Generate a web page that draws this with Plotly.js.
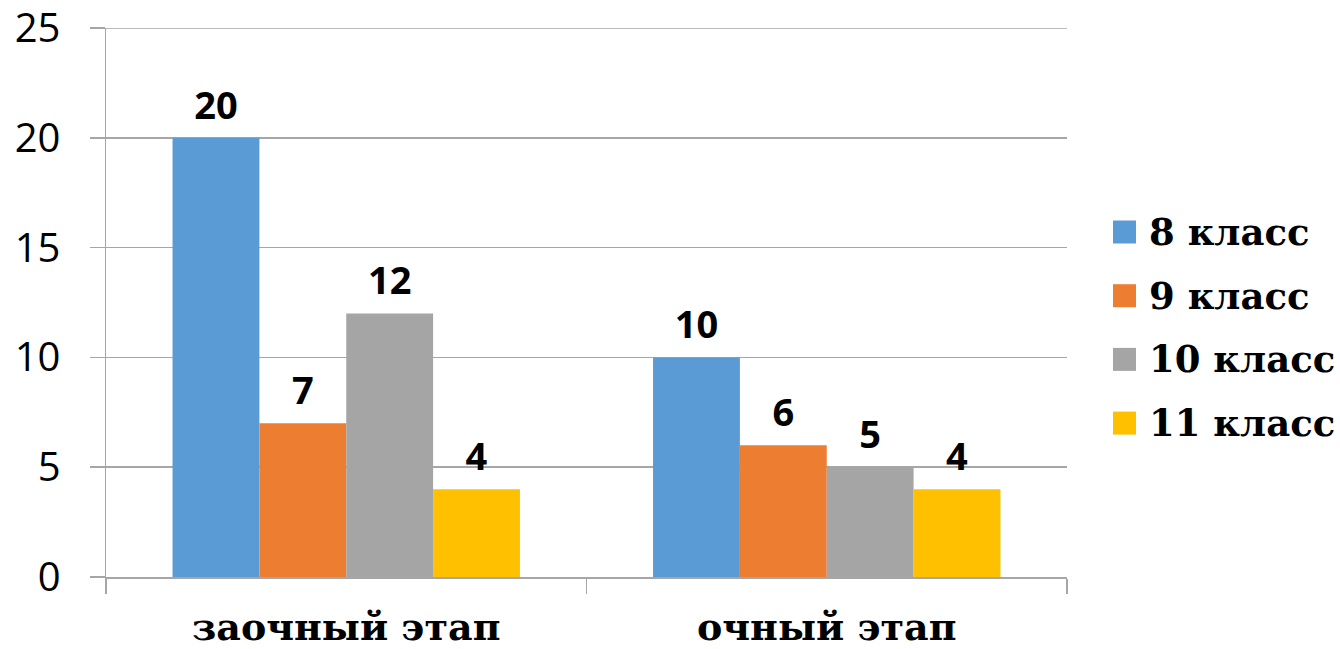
<!DOCTYPE html>
<html>
<head>
<meta charset="utf-8">
<script src="https://cdn.plot.ly/plotly-3.0.1.min.js"></script>
<style>html,body{margin:0;padding:0;background:#fff;}#chart{width:1340px;height:649px;}</style>
</head>
<body>
<div id="chart"></div>
<script>
const categories = ['заочный этап', 'очный этап'];
const seriesNames = ['8 класс', '9 класс', '10 класс', '11 класс'];
const class8 = [20, 10];
const class9 = [7, 6];
const class10 = [12, 5];
const class11 = [4, 4];
const seriesValues = [class8, class9, class10, class11];
const colors = ['#5B9BD5', '#ED7D31', '#A5A5A5', '#FFC000'];
const yMax = 25, yStep = 5;

const plotL = 106, plotR = 1067, plotT = 28, plotB = 577;
const px2x = p => (p - plotL) / (plotR - plotL);
const px2y = p => (plotB - p) / (plotB - plotT);

const traces = seriesValues.map((vals, i) => ({
  type: 'bar',
  name: seriesNames[i],
  x: categories,
  y: vals,
  marker: {color: colors[i]},
  text: vals.map(String),
  texttemplate: '<span style="font-size:38px">%{y}</span><br> ',
  textposition: 'outside',
  constraintext: 'none',
  cliponaxis: false,
  textfont: {family: 'Open Sans', size: 10, color: '#000', weight: 'bold'},
  showlegend: false,
  hoverinfo: 'skip'
}));

const legendTop = 232, legendStep = 63.7;
const shapes = [{type: 'line', xref: 'paper', yref: 'y', x0: 0, x1: 1, y0: yMax, y1: yMax,
  line: {color: '#A6A6A6', width: 1.5}, layer: 'below'}];
const annotations = [];
seriesNames.forEach((n, i) => {
  const cy = legendTop + i * legendStep;
  shapes.push({type: 'rect', xref: 'paper', yref: 'paper',
    x0: px2x(1113), x1: px2x(1136), y0: px2y(cy + 11.5), y1: px2y(cy - 11.5),
    fillcolor: colors[i], line: {width: 0}});
  annotations.push({xref: 'paper', yref: 'paper', x: px2x(1147), y: px2y(cy),
    xanchor: 'left', yanchor: 'middle', showarrow: false, text: n,
    font: {family: 'DejaVu Serif', size: 37, color: '#000', weight: 'bold'}});
});

const layout = {
  width: 1340, height: 649,
  margin: {l: plotL, r: 1340 - plotR, t: plotT, b: 649 - plotB, pad: 0},
  paper_bgcolor: '#fff', plot_bgcolor: '#fff',
  barmode: 'group', bargap: 0.277, bargroupgap: 0,
  showlegend: false,
  font: {family: 'Open Sans', color: '#000'},
  xaxis: {
    type: 'category',
    showline: true, linecolor: '#A6A6A6', linewidth: 1.5,
    ticks: 'outside', tickson: 'boundaries', ticklen: 15, tickcolor: '#A6A6A6', tickwidth: 1.5,
    showgrid: false,
    tickfont: {family: 'DejaVu Serif', size: 38, color: '#000', weight: 'bold'},
    ticklabelstandoff: 16
  },
  yaxis: {
    range: [0, yMax], tickmode: 'linear', tick0: 0, dtick: yStep,
    ticklabeloverflow: 'allow',
    showline: true, linecolor: '#A6A6A6', linewidth: 1.5,
    ticks: 'outside', ticklen: 15, tickcolor: '#A6A6A6', tickwidth: 1.5,
    showgrid: true, gridcolor: '#A6A6A6', gridwidth: 1.5,
    zeroline: false,
    tickfont: {family: 'Open Sans', size: 40, color: '#000'},
    ticklabelstandoff: 21
  },
  shapes: shapes,
  annotations: annotations
};

Plotly.newPlot('chart', traces, layout, {displayModeBar: false, staticPlot: true});
</script>
</body>
</html>
